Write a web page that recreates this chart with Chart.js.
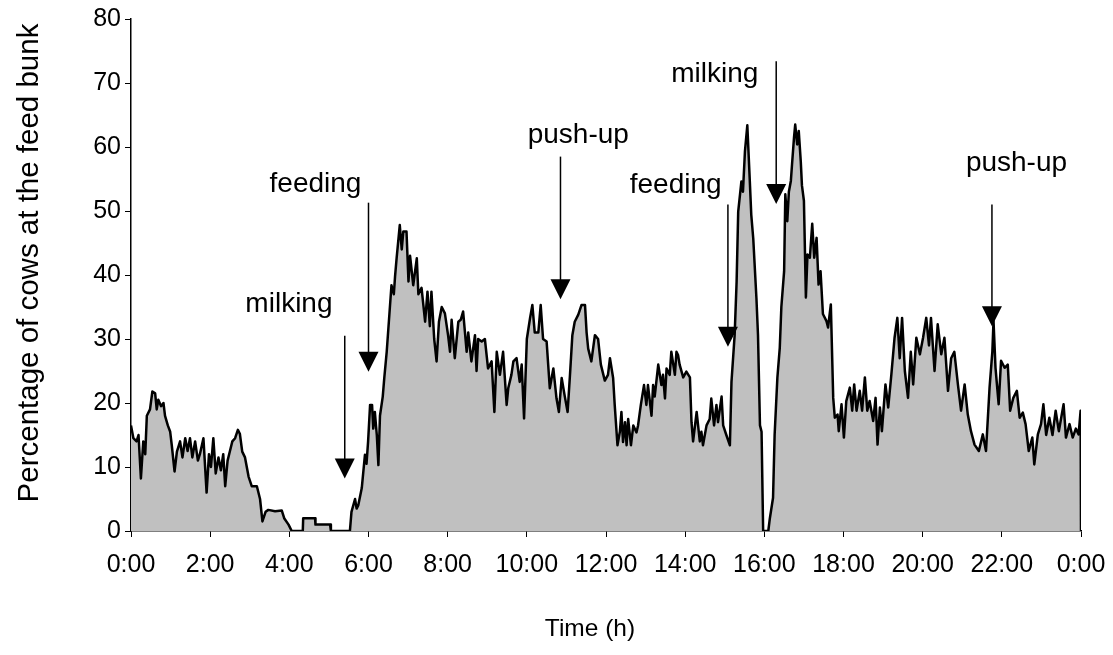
<!DOCTYPE html>
<html>
<head>
<meta charset="utf-8">
<script src="https://cdn.jsdelivr.net/npm/chart.js@4.4.1/dist/chart.umd.min.js"></script>
<style>
  body { margin: 0; background: #fff; }
  canvas { display: block; }
</style>
</head>
<body>
<canvas id="bunk-chart" width="1113" height="655"></canvas>
<script>
// time of day in hours
const hours = [
  0.00, 0.06, 0.14, 0.19, 0.25, 0.31, 0.36, 0.40, 0.48, 0.54, 0.61, 0.65, 0.69, 0.76, 0.82, 0.86, 0.93, 0.99,
  1.03, 1.10, 1.16, 1.24, 1.30, 1.37, 1.43, 1.49, 1.55, 1.62, 1.69, 1.74, 1.83, 1.91, 1.97,
  2.02, 2.08, 2.14, 2.21, 2.27, 2.33, 2.38, 2.44, 2.50, 2.56, 2.63, 2.70, 2.75, 2.81, 2.88, 2.97,
  3.05, 3.18, 3.26, 3.32, 3.40, 3.47, 3.64, 3.81, 3.87, 3.98,
  4.06, 4.34, 4.35, 4.65, 4.66, 5.03, 5.05, 5.53, 5.57, 5.66, 5.70, 5.74, 5.83, 5.91, 5.95, 5.99,
  6.04, 6.09, 6.12, 6.16, 6.21, 6.25, 6.29, 6.36, 6.40, 6.46, 6.58, 6.64, 6.67, 6.71, 6.79, 6.84, 6.88, 6.96,
  7.01, 7.05, 7.13, 7.22, 7.26, 7.34, 7.43, 7.49, 7.55, 7.59, 7.66, 7.72, 7.78, 7.85, 7.93,
  8.01, 8.06, 8.10, 8.18, 8.27, 8.33, 8.39, 8.48, 8.52, 8.60, 8.69, 8.73, 8.77, 8.86, 8.94,
  9.02, 9.11, 9.18, 9.24, 9.32, 9.40, 9.49, 9.53, 9.61, 9.66, 9.74, 9.82, 9.87, 9.93,
  10.00, 10.08, 10.14, 10.20, 10.29, 10.35, 10.41, 10.50, 10.58, 10.67, 10.75, 10.81, 10.88, 10.96,
  11.03, 11.09, 11.15, 11.21, 11.30, 11.38, 11.47, 11.51, 11.55, 11.63, 11.72, 11.80, 11.87, 11.97,
  12.05, 12.10, 12.18, 12.22, 12.29, 12.35, 12.39, 12.43, 12.48, 12.52, 12.56, 12.63, 12.69, 12.77, 12.81, 12.88, 12.96,
  13.02, 13.06, 13.15, 13.19, 13.23, 13.32, 13.40, 13.44, 13.49, 13.53, 13.61, 13.65, 13.74, 13.78, 13.82, 13.86, 13.95,
  14.03, 14.12, 14.16, 14.20, 14.29, 14.37, 14.41, 14.45, 14.54, 14.62, 14.66, 14.73, 14.79, 14.83, 14.92, 14.96,
  15.04, 15.13, 15.17, 15.25, 15.30, 15.34, 15.42, 15.46, 15.51, 15.57, 15.63, 15.67, 15.72, 15.80, 15.84, 15.89, 15.93, 15.97,
  16.10, 16.14, 16.22, 16.26, 16.33, 16.39, 16.43, 16.50, 16.53, 16.58, 16.62, 16.67, 16.70, 16.75, 16.78, 16.83, 16.87, 16.92, 16.95,
  17.00, 17.05, 17.09, 17.15, 17.21, 17.26, 17.32, 17.37, 17.42, 17.48, 17.57, 17.61, 17.68, 17.74, 17.78, 17.85, 17.88, 17.95,
  18.01, 18.07, 18.16, 18.22, 18.27, 18.33, 18.41, 18.47, 18.54, 18.60, 18.66, 18.75, 18.81, 18.86, 18.92, 18.97,
  19.06, 19.13, 19.21, 19.29, 19.36, 19.42, 19.48, 19.55, 19.63, 19.70, 19.76, 19.84, 19.93,
  20.01, 20.09, 20.16, 20.21, 20.30, 20.38, 20.47, 20.55, 20.64, 20.72, 20.80, 20.89, 20.97,
  21.06, 21.14, 21.22, 21.31, 21.42, 21.52, 21.60, 21.69, 21.76, 21.79, 21.84, 21.92, 21.98,
  22.07, 22.15, 22.21, 22.29, 22.38, 22.45, 22.53, 22.60, 22.68, 22.77, 22.82, 22.91, 22.99,
  23.05, 23.12, 23.20, 23.28, 23.36, 23.44, 23.56, 23.62, 23.71, 23.79, 23.87, 23.94, 23.99, 24.00
];

// percentage of cows at the feed bunk
const pctAtBunk = [
  16.5, 14.5, 14.0, 15.0, 8.2, 14.0, 12.0, 18.0, 19.0, 21.8, 21.5, 19.0, 20.5, 19.5, 20.0, 18.0, 16.5, 15.5,
  13.4, 9.3, 12.4, 14.0, 11.5, 14.5, 12.5, 14.5, 11.5, 14.0, 11.0, 12.0, 14.5, 6.0, 12.0,
  10.0, 14.5, 9.0, 11.5, 9.5, 12.0, 7.0, 11.0, 12.5, 14.0, 14.5, 15.8, 15.2, 12.4, 11.5, 8.5,
  7.0, 7.0, 5.0, 1.5, 3.0, 3.3, 3.1, 3.2, 2.0, 1.0,
  0, 0, 2.0, 2.0, 1.0, 1.0, 0, 0, 3.0, 5.0, 3.5, 4.0, 6.7, 11.9, 10.5, 14.0,
  19.7, 19.7, 16.0, 18.6, 15.0, 10.3, 18.0, 21.0, 24.0, 28.0, 38.4, 37.0, 39.7, 42.6, 47.8, 44.0, 46.8, 46.8,
  39.0, 43.0, 38.4, 42.6, 37.0, 38.0, 32.7, 37.4, 32.0, 37.4, 30.0, 26.5, 32.7, 35.0, 34.0,
  30.6, 28.0, 33.0, 27.0, 32.7, 33.0, 34.3, 28.0, 31.0, 26.5, 30.6, 25.0, 30.0, 29.6, 30.0,
  25.4, 26.5, 18.6, 28.0, 24.4, 28.0, 19.7, 22.3, 24.4, 26.5, 27.0, 23.3, 26.0, 17.6,
  30.0, 33.2, 35.3, 31.0, 31.0, 35.3, 30.0, 29.6, 22.3, 25.4, 20.7, 18.6, 23.9, 21.0,
  18.6, 24.4, 30.6, 32.7, 33.8, 35.3, 35.3, 31.0, 28.5, 26.5, 30.6, 30.0, 26.0, 23.5,
  24.4, 27.0, 23.9, 19.7, 13.4, 15.5, 18.6, 13.9, 17.0, 13.4, 17.5, 13.4, 16.5, 15.4, 16.5, 19.7, 22.8,
  19.7, 22.8, 18.0, 22.8, 21.0, 26.0, 22.8, 24.4, 20.7, 25.4, 24.4, 28.0, 24.4, 28.0, 27.5, 26.0, 24.0,
  24.9, 24.0, 17.0, 14.0, 18.6, 14.0, 15.5, 13.4, 16.5, 17.5, 20.7, 16.5, 19.7, 17.0, 21.0, 16.5,
  15.0, 13.4, 23.3, 30.6, 39.0, 49.9, 54.6, 53.0, 59.3, 63.4, 55.1, 49.4, 45.7, 36.4, 30.6, 16.5, 15.5, 0,
  0, 2.0, 5.2, 15.0, 24.0, 28.6, 35.0, 40.6, 52.6, 48.4, 53.0, 54.7, 57.3, 61.5, 63.5, 60.4, 62.5, 57.8, 54.0,
  51.6, 36.5, 43.2, 42.7, 48.0, 42.7, 45.8, 38.5, 40.6, 33.9, 32.8, 31.8, 35.4, 20.8, 17.7, 18.2, 15.6, 19.8,
  14.6, 20.3, 22.4, 18.8, 22.9, 18.8, 21.9, 18.8, 24.0, 18.8, 20.3, 17.2, 20.8, 13.5, 19.3, 15.6,
  22.9, 19.3, 24.5, 30.2, 33.3, 27.0, 33.3, 25.0, 20.8, 28.0, 22.9, 30.2, 27.6,
  30.2, 33.3, 29.0, 33.3, 25.0, 32.3, 27.6, 30.2, 21.9, 27.0, 28.0, 22.9, 18.8,
  22.9, 18.2, 15.6, 13.5, 12.5, 15.1, 12.5, 22.4, 28.0, 32.8, 25.5, 19.8, 26.6,
  25.5, 26.0, 18.8, 20.8, 21.9, 17.7, 18.5, 16.7, 12.5, 14.6, 10.4, 15.1, 16.7,
  19.8, 15.0, 17.7, 15.0, 18.8, 15.6, 19.8, 14.6, 16.7, 14.6, 16.0, 15.1, 18.8, 0
];

const tickLabels = ["0:00", "2:00", "4:00", "6:00", "8:00", "10:00", "12:00",
  "14:00", "16:00", "18:00", "20:00", "22:00", "0:00"];

// event markers: arrow from top value down to tip value at a given hour
const events = [
  { text: "milking", hour: 5.40, top: 30.5, tip: 8.2, labelHour: 3.99, labelAt: 35.5 },
  { text: "feeding", hour: 6.00, top: 51.3, tip: 24.9, labelHour: 4.66, labelAt: 54.2 },
  { text: "push-up", hour: 10.85, top: 58.5, tip: 36.2, labelHour: 11.30, labelAt: 61.8 },
  { text: "feeding", hour: 15.08, top: 51.0, tip: 28.8, labelHour: 13.76, labelAt: 54.0 },
  { text: "milking", hour: 16.30, top: 73.4, tip: 51.1, labelHour: 14.75, labelAt: 71.4 },
  { text: "push-up", hour: 21.75, top: 51.0, tip: 32.0, labelHour: 22.37, labelAt: 57.4 }
];

const FONT = "'Liberation Sans', Arial, sans-serif";

const eventArrows = {
  id: "eventArrows",
  afterDatasetsDraw(chart) {
    const { ctx, scales: { x, y } } = chart;
    ctx.save();
    ctx.fillStyle = "#000";
    ctx.strokeStyle = "#000";
    ctx.lineWidth = 1.5;
    ctx.font = "28px " + FONT;
    ctx.textAlign = "center";
    ctx.textBaseline = "middle";
    events.forEach(ev => {
      const px = x.getPixelForValue(ev.hour);
      const top = y.getPixelForValue(ev.top);
      const tip = y.getPixelForValue(ev.tip);
      ctx.beginPath();
      ctx.moveTo(px, top);
      ctx.lineTo(px, tip - 18);
      ctx.stroke();
      ctx.beginPath();
      ctx.moveTo(px - 10, tip - 20);
      ctx.lineTo(px + 10, tip - 20);
      ctx.lineTo(px, tip);
      ctx.closePath();
      ctx.fill();
      ctx.fillText(ev.text, x.getPixelForValue(ev.labelHour), y.getPixelForValue(ev.labelAt));
    });
    // axis titles sit a little off the plot centre in the original
    ctx.font = "24.5px " + FONT;
    ctx.fillText("Time (h)", 590, 629);
    ctx.translate(30, 263);
    ctx.rotate(-Math.PI / 2);
    ctx.font = "29.5px " + FONT;
    ctx.fillText("Percentage of cows at the feed bunk", 0, 0);
    ctx.restore();
  }
};

new Chart(document.getElementById("bunk-chart").getContext("2d"), {
  type: "line",
  data: {
    datasets: [{
      data: hours.map((h, i) => ({ x: h, y: pctAtBunk[i] })),
      borderColor: "#000",
      borderWidth: 2.5,
      borderJoinStyle: "round",
      backgroundColor: "#C0C0C0",
      fill: "origin",
      pointRadius: 0,
      tension: 0
    }]
  },
  options: {
    responsive: false,
    animation: false,
    layout: { padding: { top: 17, right: 32, left: 0, bottom: 0 } },
    plugins: { legend: { display: false }, tooltip: { enabled: false } },
    scales: {
      x: {
        type: "linear", min: 0, max: 24,
        afterFit: s => { s.height = 124; s.paddingLeft = 0; s.paddingRight = 0; },
        ticks: {
          stepSize: 2, autoSkip: false, maxRotation: 0, padding: 13,
          color: "#000", font: { family: FONT, size: 25 },
          callback: v => tickLabels[v / 2]
        },
        grid: { drawOnChartArea: false, tickLength: 6, color: "#000" },
        border: { color: "#000", width: 1.5 }
      },
      y: {
        min: 0, max: 80,
        afterFit: s => { s.width = 131; },
        ticks: { stepSize: 10, padding: 4, color: "#000", font: { family: FONT, size: 25 } },
        grid: { drawOnChartArea: false, tickLength: 6, color: "#000" },
        border: { color: "#000", width: 1.5 }
      }
    }
  },
  plugins: [eventArrows]
});
</script>
</body>
</html>
